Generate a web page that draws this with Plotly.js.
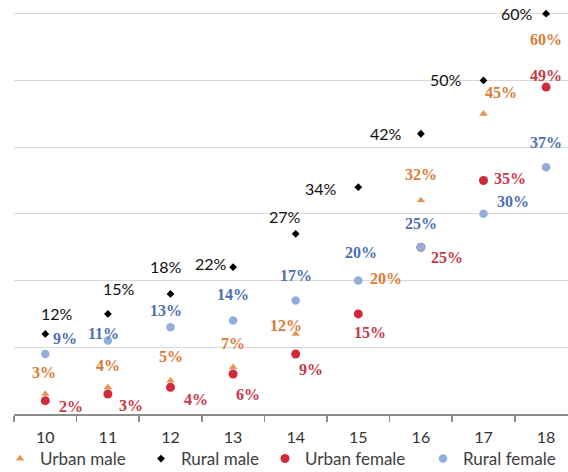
<!DOCTYPE html>
<html><head><meta charset="utf-8">
<script src="https://cdn.plot.ly/plotly-3.0.1.min.js"></script>
<style>html,body{margin:0;padding:0;background:#fff}#chart{width:568px;height:472px}</style>
</head><body><div id="chart"></div>
<script>
// ---- data ----
const ages = ['10','11','12','13','14','15','16','17','18'];
const urbanMale   = [3, 4, 5, 7, 12, 20, 32, 45, 60];
const ruralMale   = [12, 15, 18, 22, 27, 34, 42, 50, 60];
const urbanFemale = [2, 3, 4, 6, 9, 15, 25, 35, 49];
const ruralFemale = [9, 11, 13, 14, 17, 20, 25, 30, 37];
const seriesNames = ['Urban male', 'Rural male', 'Urban female', 'Rural female'];

// ---- label offsets (px, dx right, dy down) ----
const offUM = [[-1,-21],[0,-22],[0,-24],[0,-24],[-10,-8],[28,-2],[0,-26],[18,-21],[0,26]];
const offRM = [[12,-20],[11,-25],[-5,-27],[-22,-4],[-11,-17],[-37,1],[-35,0],[-37,-1],[-29,0]];
const offUF = [[26,6],[23,12],[25,12],[15,21],[15,16],[12,19],[26,10],[27,-2],[0,-12]];
const offRF = [[20,-15],[-4,-7],[-5,-17],[0,-26],[0,-25],[3,-28],[0,-24],[30,-12],[0,-25]];

const styles = [
  {vals: urbanMale,   off: offUM, symbol: 'triangle-up', size: 7.5, color: '#E8964F', lab: '#D97B36', fam: 'Liberation Serif', bold: true,  legend: 'legend'},
  {vals: ruralMale,   off: offRM, symbol: 'diamond',     size: 6,   color: '#000000', lab: '#111111', fam: 'Lato',             bold: false, legend: 'legend2'},
  {vals: urbanFemale, off: offUF, symbol: 'circle',      size: 9,   color: '#D12A3A', lab: '#C83848', fam: 'Liberation Serif', bold: true,  legend: 'legend3'},
  {vals: ruralFemale, off: offRF, symbol: 'circle',      size: 8.5, color: '#92AEDC', lab: '#4D6FB3', fam: 'Liberation Serif', bold: true,  legend: 'legend4'}
];

const traces = styles.map((s, k) => ({
  type: 'scatter', mode: 'markers', name: seriesNames[k],
  x: ages, y: s.vals, legend: s.legend,
  marker: {symbol: s.symbol, size: s.size, color: s.color, line: {width: 0}},
  cliponaxis: false, hoverinfo: 'skip'
}));

const annotations = [];
styles.forEach(s => {
  s.vals.forEach((v, i) => {
    const t = v + '%';
    annotations.push({
      x: i, y: v, xref: 'x', yref: 'y', text: s.bold ? '<b>' + t + '</b>' : t, showarrow: false,
      xanchor: 'center', yanchor: 'middle',
      xshift: s.off[i][0], yshift: -s.off[i][1],
      font: {family: s.fam, size: 16, color: s.lab}
    });
  });
});

const legendSymbolX = [12, 161, 285, 443];
function legendCfg(px) {
  return {
    orientation: 'h', xref: 'container', yref: 'container',
    x: (px - 20) / 568, y: 13 / 472, xanchor: 'left', yanchor: 'middle',
    bgcolor: 'rgba(0,0,0,0)', borderwidth: 0,
    font: {family: 'Lato', size: 17, color: '#404040'}
  };
}

const layout = {
  width: 568, height: 472,
  margin: {l: 14, r: 0, t: 1, b: 58, pad: 0},
  paper_bgcolor: '#ffffff', plot_bgcolor: '#ffffff',
  showlegend: true,
  legend: legendCfg(legendSymbolX[0]),
  legend2: legendCfg(legendSymbolX[1]),
  legend3: legendCfg(legendSymbolX[2]),
  legend4: legendCfg(legendSymbolX[3]),
  xaxis: {
    type: 'category', range: [-0.5, 8.35],
    showline: true, linecolor: '#8c8c8c', linewidth: 2,
    ticks: 'outside', tickson: 'boundaries', ticklen: 6, tickcolor: '#8c8c8c', tickwidth: 1.5,
    ticklabelstandoff: 8,
    showgrid: false, zeroline: false,
    tickfont: {family: 'Lato', size: 16, color: '#333333'}
  },
  yaxis: {
    range: [0, 61.9], dtick: 10, tick0: 0,
    showgrid: true, gridcolor: '#d9d9d9', gridwidth: 1,
    showticklabels: false, zeroline: false, showline: false, ticks: ''
  },
  annotations: annotations
};

Plotly.newPlot('chart', traces, layout, {staticPlot: true});
</script>
</body></html>
